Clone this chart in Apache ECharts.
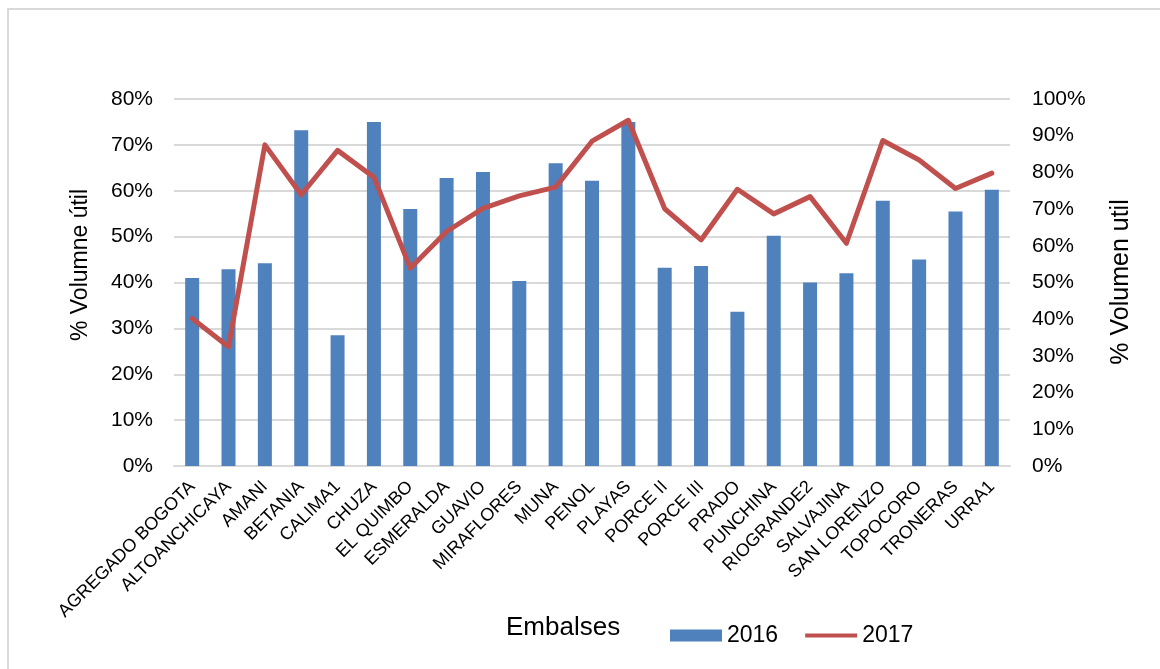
<!DOCTYPE html>
<html>
<head>
<meta charset="utf-8">
<script src="https://cdn.jsdelivr.net/npm/echarts@6/dist/echarts.min.js"></script>
<style>
  html, body { margin: 0; padding: 0; background: #fff; }
  #chart { width: 1160px; height: 669px; }
</style>
</head>
<body>
<div id="chart"></div>
<script>
var embalses = [
  "AGREGADO BOGOTA", "ALTOANCHICAYA", "AMANI", "BETANIA", "CALIMA1", "CHUZA",
  "EL QUIMBO", "ESMERALDA", "GUAVIO", "MIRAFLORES", "MUNA", "PENOL", "PLAYAS",
  "PORCE II", "PORCE III", "PRADO", "PUNCHINA", "RIOGRANDE2", "SALVAJINA",
  "SAN LORENZO", "TOPOCORO", "TRONERAS", "URRA1"
];
// % volumen util 2016 (eje izquierdo)
var vol2016 = [41.0, 42.9, 44.2, 73.2, 28.5, 75.0, 56.0, 62.8, 64.1, 40.3, 66.0, 62.2,
  75.0, 43.2, 43.6, 33.6, 50.2, 40.0, 42.0, 57.8, 45.0, 55.5, 60.2];
// % volumen util 2017 (eje derecho)
var vol2017 = [40.2, 32.5, 87.5, 73.9, 86.0, 78.7, 53.9, 63.9, 70.2, 73.6, 76.0, 88.5,
  94.2, 70.1, 61.6, 75.4, 68.7, 73.4, 60.7, 88.7, 83.4, 75.6, 79.8];

var font = "'Liberation Sans', Arial, sans-serif";
var txt = "#000";
// legend line icon: thin bar, box kept 52x12 by the empty moves
var lineIcon = "path://M0,0 M0,4 L52,4 L52,8 L0,8 Z M52,12";

var chart = echarts.init(document.getElementById("chart"));
chart.setOption({
  animation: false,
  textStyle: { fontFamily: font, color: txt },
  grid: { left: 174, right: 150, top: 99, bottom: 203 },
  graphic: [
    {
      type: "rect", silent: true,
      shape: { x: 8, y: 9, width: 1200, height: 700 },
      style: { fill: "none", stroke: "#D9D9D9", lineWidth: 2 }
    },
    {
      type: "text", left: 506, top: 615,
      style: { text: "Embalses", font: "26px " + font, fill: txt }
    },
    {
      type: "text", x: 81, y: 265, rotation: Math.PI / 2,
      style: { text: "% Volumne útil", font: "23px " + font, fill: txt, align: "center", verticalAlign: "middle" }
    },
    {
      type: "text", x: 1121, y: 282, rotation: Math.PI / 2,
      style: { text: "% Volumen util", font: "25px " + font, fill: txt, align: "center", verticalAlign: "middle" }
    }
  ],
  legend: {
    left: 670, top: 624, padding: 0,
    itemWidth: 52, itemHeight: 12, itemGap: 27,
    textStyle: { fontSize: 23, fontFamily: font, color: txt },
    data: [
      { name: "2016", icon: "rect" },
      { name: "2017", icon: lineIcon }
    ]
  },
  xAxis: {
    type: "category",
    data: embalses,
    axisLine: { lineStyle: { color: "#D9D9D9", width: 2 } },
    axisTick: { show: false },
    axisLabel: { interval: 0, rotate: 45, fontSize: 18, color: txt, margin: 18 }
  },
  yAxis: [
    {
      type: "value", min: 0, max: 80, interval: 10,
      axisLabel: { formatter: "{value}%", fontSize: 21, color: txt, margin: 21 },
      splitLine: { lineStyle: { color: "#D9D9D9", width: 2 } },
      axisLine: { show: false }, axisTick: { show: false }
    },
    {
      type: "value", min: 0, max: 100, interval: 10,
      axisLabel: { formatter: "{value}%", fontSize: 21, color: txt, margin: 22 },
      splitLine: { show: false },
      axisLine: { show: false }, axisTick: { show: false }
    }
  ],
  series: [
    {
      name: "2016", type: "bar", yAxisIndex: 0,
      data: vol2016, barWidth: 14,
      itemStyle: { color: "#4F81BD" }
    },
    {
      name: "2017", type: "line", yAxisIndex: 1,
      data: vol2017, symbol: "none",
      lineStyle: { color: "#C0504D", width: 5, cap: "round", join: "round" },
      itemStyle: { color: "#C0504D" }
    }
  ]
});
</script>
</body>
</html>
